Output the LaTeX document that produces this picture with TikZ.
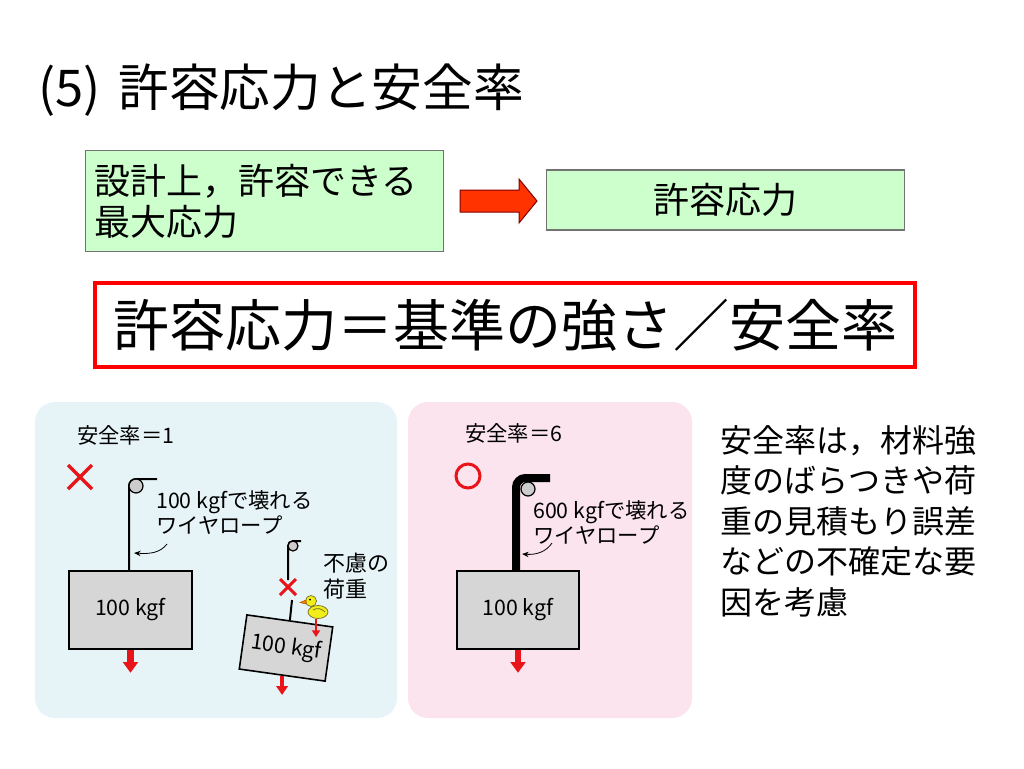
\documentclass[tikz,border=0pt]{standalone}
\usepackage{fontspec}
\setmainfont{Noto Sans CJK JP}
\usetikzlibrary{arrows.meta,calc}
\definecolor{lgreen}{HTML}{CCFFCC}
\definecolor{lblue}{HTML}{E6F4F8}
\definecolor{lpink}{HTML}{FCE4EE}
\definecolor{boxgray}{HTML}{D6D6D6}
\definecolor{arrred}{HTML}{FF3300}
\definecolor{duckyel}{HTML}{F2EE1A}
\definecolor{xred}{HTML}{E8141A}
\begin{document}
\begin{tikzpicture}[x=0.75pt,y=-0.75pt,
  greenbox/.style={draw=black!55, fill=lgreen, line width=0.9pt},
  lbl/.style={font=\fontsize{16}{19}\selectfont, inner sep=0},
  weight/.style={draw=black, line width=1.2pt, fill=boxgray, font=\fontsize{16}{18}\selectfont, inner sep=0},
  pulley/.style={circle, draw=black, fill=gray!40, line width=0.9pt, minimum size=10.5pt, inner sep=0, outer sep=0},
  rope/.style={line width=1.5pt},
  thickrope/.style={line width=6pt, rounded corners=7},
  redx/.style={draw=xred, line width=2.5pt},
  force/.style={draw=xred, line width=5pt, -{Triangle[width=11pt,length=8pt]}},
  forcesmall/.style={draw=xred, line width=2.2pt, -{Triangle[width=6pt,length=5pt]}},
  forcemid/.style={draw=xred, line width=3.5pt, -{Triangle[width=8.5pt,length=6.5pt]}},
  leader/.style={line width=0.6pt, -{Stealth[length=5pt,width=4pt]}},
  duck/.style={fill=duckyel, draw=olive!70!black, line width=0.5pt}
]
\fill[white] (0,0) rectangle (1024,768);
\useasboundingbox (0,0) rectangle (1024,768);

% title
\node[anchor=west, font=\fontsize{38}{44}\selectfont, inner sep=0] (title) at (38,90) {(5)\hspace{0.35em}許容応力と安全率};

% definition boxes
\node[greenbox, anchor=north west, minimum width=268.5pt, minimum height=75.75pt,
      text width=255pt, inner xsep=6pt, align=left, font=\fontsize{27}{31}\selectfont] (def) at (85,150) {設計上，許容できる\\最大応力};
\node[greenbox, minimum width=269pt, minimum height=45pt, font=\fontsize{27}{31}\selectfont] (allow) at (725.5,200) {許容応力};
\filldraw[fill=arrred, draw=black!50!red, line width=0.75pt]
  (460,190) -- (519,190) -- (519,179) -- (537,201) -- (519,223) -- (519,212) -- (460,212) -- cycle;

% formula
\node[draw=red, line width=2.5pt, fill=white, minimum width=615pt, minimum height=63pt,
      font=\fontsize{42}{50}\selectfont] (formula) at (505,325) {許容応力＝基準の強さ／安全率};

% panels
\fill[lblue, rounded corners=15pt] (35,402) rectangle (397,718);
\fill[lpink, rounded corners=15pt] (408,402) rectangle (692,718);

% ---- left panel
\node[lbl, anchor=west] (sf1) at (77,435) {安全率＝1};
\draw[redx] (68,465) -- (92,489) (68,489) -- (92,465);
\node[weight, minimum width=92pt, minimum height=58.5pt] (w1) at (130.5,610) {100 kgf};
\draw[rope] (129,571) -- (129,486) arc[start angle=180, end angle=270, radius=7] -- ++(21,0);
\node[pulley] (p1) at (136,486) {};
\node[lbl, anchor=west, align=left] (l1) at (156,512.5) {100 kgfで壊れる\\ワイヤロープ};
\coordinate (r1) at (134,553);
\draw[leader] (167,544) .. controls (160,553) and (150,554) .. (r1);
\draw[force] (w1.south) -- ++(0,23);

% tilted weight
\node[weight, rotate=-8, minimum width=65pt, minimum height=41pt] (w2) at (286,648) {100 kgf};
\draw[rope] (288,580) -- (288,546) arc[start angle=180, end angle=270, radius=5] -- ++(8,0);
\node[pulley, minimum size=7.5pt] (p2) at (293,546) {};
\draw[redx, line width=2.2pt] (280,579) -- (296,595) (280,595) -- (296,579);
\draw[rope] (292,600) -- (w2.north);
\node[lbl, anchor=west, align=left, font=\fontsize{16.5}{20}\selectfont] (l2) at (323,576) {不慮の\\荷重};
% duck
\filldraw[duck] (318,612) ellipse [x radius=10, y radius=6.5];
\filldraw[duck] (311,601) circle[radius=5.5];
\filldraw[fill=orange, draw=orange!70!black, line width=0.4pt] (306,600) -- (300,602.5) -- (306,604) -- cycle;
\fill (310,599.5) circle[radius=1];
\draw[olive!70!black, line width=0.5pt] (313,610) .. controls (318,607) and (322,609) .. (325,612);
\draw[forcesmall] (316,619) -- (316,637);
\draw[forcemid] (w2.south) -- ++(0,19);

% ---- right panel
\node[lbl, anchor=west] (sf6) at (465,433) {安全率＝6};
\draw[xred, line width=2.25pt] (468,476) circle[radius=12];
\node[weight, minimum width=91.5pt, minimum height=58.5pt] (w3) at (518,610) {100 kgf};
\draw[thickrope] ($(w3.north)+(-2,0)$) |- (550,478);
\node[pulley] (p3) at (528,489) {};
\node[lbl, anchor=west, align=left] (l3) at (533,522.5) {600 kgfで壊れる\\ワイヤロープ};
\coordinate (r3) at (522,554);
\draw[leader] (552,543) .. controls (546,552) and (536,555) .. (r3);
\draw[force] (w3.south) -- ++(0,23);

% side note
\node[anchor=west, align=left, font=\fontsize{24}{30.4}\selectfont, inner sep=0] (note) at (720,521)
  {安全率は，材料強\\度のばらつきや荷\\重の見積もり誤差\\などの不確定な要\\因を考慮};
\end{tikzpicture}
\end{document}
